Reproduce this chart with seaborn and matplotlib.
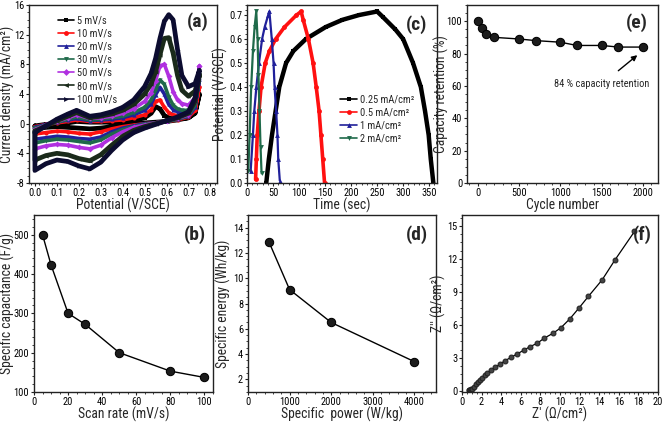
import matplotlib
matplotlib.use("Agg")
import matplotlib.pyplot as plt
import matplotlib.font_manager as fm
import seaborn as sns

# ---- data ----
# (a) cyclic voltammetry, anodic sweep and cathodic sweep
scan_labels = ["5 mV/s", "10 mV/s", "20 mV/s", "30 mV/s", "50 mV/s", "80 mV/s", "100 mV/s"]
e_fwd = [0.0, 0.05, 0.1, 0.15, 0.19, 0.25, 0.3, 0.35, 0.4, 0.45, 0.5, 0.53,
         0.55, 0.57, 0.59, 0.61, 0.63, 0.65, 0.67, 0.7, 0.73, 0.75]
e_rev = [0.75, 0.73, 0.7, 0.65, 0.6, 0.55, 0.5, 0.45, 0.4, 0.35, 0.3, 0.25,
         0.2, 0.15, 0.1, 0.05, 0.0]
i_fwd_5 = [-0.3, -0.1, 0.0, 0.1, 0.3, 0.2, 0.2, 0.2, 0.3, 0.5, 0.8, 1.4, 2.3, 2.0, 1.1, 0.8, 0.7, 0.7, 0.7, 0.8, 1.4, 4.0]
i_fwd_10 = [-0.4, -0.1, 0.1, 0.3, 0.5, 0.3, 0.3, 0.4, 0.5, 0.8, 1.2, 1.9, 3.0, 3.2, 2.2, 1.5, 1.2, 1.1, 1.0, 1.1, 1.8, 5.0]
i_fwd_20 = [-0.5, -0.1, 0.2, 0.5, 0.7, 0.4, 0.5, 0.6, 0.8, 1.2, 1.8, 2.7, 3.9, 4.9, 4.0, 2.6, 1.9, 1.6, 1.5, 1.5, 2.4, 6.0]
i_fwd_30 = [-0.6, -0.2, 0.2, 0.6, 0.9, 0.5, 0.6, 0.8, 1.0, 1.5, 2.2, 3.2, 4.6, 5.9, 5.3, 3.6, 2.5, 2.0, 1.8, 1.8, 2.8, 6.5]
i_fwd_50 = [-0.8, -0.2, 0.3, 0.8, 1.2, 0.7, 0.8, 1.0, 1.4, 2.0, 3.0, 4.2, 5.8, 7.8, 8.0, 6.4, 4.3, 3.2, 2.7, 2.5, 3.5, 7.8]
i_fwd_80 = [-1.0, -0.3, 0.4, 1.0, 1.5, 0.8, 1.0, 1.3, 1.8, 2.6, 4.0, 5.4, 7.0, 9.3, 11.5, 11.6, 9.5, 6.5, 4.5, 3.7, 4.4, 6.6]
i_fwd_100 = [-1.2, -0.3, 0.6, 1.3, 1.8, 1.0, 1.2, 1.6, 2.2, 3.2, 5.0, 6.8, 8.8, 11.5, 13.8, 14.7, 14.0, 10.0, 6.5, 5.0, 5.4, 7.2]
i_rev_5 = [4.0, 1.5, 0.8, 0.5, 0.3, 0.2, 0.1, 0.0, -0.2, -0.4, -0.6, -0.7, -0.6, -0.5, -0.4, -0.5, -0.7]
i_rev_10 = [5.0, 1.8, 0.9, 0.5, 0.3, 0.1, 0.0, -0.2, -0.4, -0.7, -1.1, -1.4, -1.3, -1.1, -1.0, -1.2, -1.4]
i_rev_20 = [6.0, 2.2, 1.0, 0.6, 0.3, 0.1, 0.0, -0.3, -0.6, -1.1, -1.8, -2.1, -2.0, -1.8, -1.7, -1.9, -2.1]
i_rev_30 = [6.5, 2.5, 1.1, 0.6, 0.3, 0.1, -0.1, -0.4, -0.8, -1.4, -2.2, -2.6, -2.4, -2.2, -2.1, -2.3, -2.6]
i_rev_50 = [7.8, 3.0, 1.2, 0.7, 0.4, 0.1, -0.2, -0.5, -1.1, -1.9, -2.9, -3.4, -3.2, -2.9, -2.8, -3.0, -3.4]
i_rev_80 = [6.6, 3.0, 1.4, 0.8, 0.4, 0.0, -0.4, -0.9, -1.7, -2.9, -4.2, -5.0, -4.7, -4.2, -4.0, -4.3, -4.9]
i_rev_100 = [7.2, 3.5, 1.6, 0.9, 0.4, -0.1, -0.6, -1.2, -2.2, -3.6, -5.2, -6.1, -5.7, -5.1, -4.9, -5.4, -6.3]

# (b) capacitance vs scan rate
scan_rate = [5, 10, 20, 30, 50, 80, 100]
capacitance = [500, 423, 300, 272, 200, 153, 137]

# (c) charge-discharge curves
gcd_labels = ["0.25 mA/cm²", "0.5 mA/cm²", "1 mA/cm²", "2 mA/cm²"]
t_025 = [37, 42, 48, 55, 62, 75, 89, 113, 151, 183, 215, 250, 262, 285, 300, 319, 334, 342, 349, 353, 358]
v_025 = [0.0, 0.1, 0.2, 0.3, 0.4, 0.5, 0.55, 0.6, 0.65, 0.68, 0.7, 0.715, 0.69, 0.64, 0.6, 0.5, 0.4, 0.3, 0.2, 0.1, 0.0]
t_05 = [16.5, 18, 19.7, 23, 27, 35, 43, 55, 72, 95, 104, 108, 118, 127, 133, 138.5, 142, 145.5, 149]
v_05 = [0.015, 0.1, 0.2, 0.3, 0.4, 0.5, 0.55, 0.6, 0.65, 0.7, 0.715, 0.68, 0.6, 0.5, 0.4, 0.3, 0.2, 0.1, 0.0]
t_1 = [7, 11.4, 14, 18, 23, 29, 34, 40.7, 43, 47.6, 51, 53, 56, 58.5, 60, 63]
v_1 = [0.05, 0.2, 0.3, 0.4, 0.5, 0.6, 0.65, 0.7, 0.715, 0.6, 0.5, 0.4, 0.3, 0.2, 0.1, 0.01]
t_2 = [2.5, 5, 8, 11.4, 14.6, 17.8, 20.3, 22, 24, 26, 28]
v_2 = [0.05, 0.2, 0.4, 0.55, 0.65, 0.715, 0.6, 0.45, 0.3, 0.15, 0.04]

# (d) Ragone
power = [500, 1000, 2000, 4000]
energy = [12.9, 9.1, 6.5, 3.4]

# (e) cycling stability
cycles = [0, 50, 100, 200, 500, 700, 1000, 1200, 1500, 1700, 2000]
retention = [100, 96, 92, 90, 89, 88, 87, 85, 85, 84, 84]

# (f) Nyquist plot
z_re = [0.7, 0.75, 0.8, 0.9, 1.0, 1.2, 1.4, 1.6, 1.8, 2.0, 2.3, 2.6, 3.0, 3.4, 3.9, 4.4,
        5.0, 5.6, 6.3, 6.9, 7.7, 8.4, 9.3, 10.1, 11.0, 11.9, 12.9, 14.3, 15.6, 17.6]
z_im = [0.05, 0.1, 0.12, 0.15, 0.2, 0.4, 0.6, 0.8, 1.0, 1.2, 1.45, 1.65, 1.9, 2.15, 2.45, 2.75,
        3.05, 3.35, 3.7, 4.0, 4.35, 4.8, 5.25, 5.75, 6.55, 7.5, 8.6, 10.1, 11.9, 14.5]

# ---- style ----
sns.set_style("ticks")
names = {f.name for f in fm.fontManager.ttflist}
fam = "Liberation Sans"
for cand in ["Liberation Sans Narrow", "Arial Narrow", "Roboto Condensed", "Open Sans Condensed"]:
    if cand in names:
        fam = cand
        break
narrow = fam != "Liberation Sans"
plt.rcParams["font.family"] = [fam, "DejaVu Sans"]
plt.rcParams["axes.unicode_minus"] = False
plt.rcParams["axes.linewidth"] = 1.0
plt.rcParams["axes.edgecolor"] = "#222222"
plt.rcParams["xtick.major.size"] = 2.5
plt.rcParams["ytick.major.size"] = 2.5
plt.rcParams["xtick.minor.size"] = 1.5
plt.rcParams["ytick.minor.size"] = 1.5
plt.rcParams["xtick.labelsize"] = 7.5 if narrow else 7
plt.rcParams["ytick.labelsize"] = 7.5 if narrow else 7
plt.rcParams["axes.labelsize"] = 9.8 if narrow else 9.3
plt.rcParams["xtick.major.pad"] = 1
plt.rcParams["ytick.major.pad"] = 1
small = 7.5 if narrow else 7

fig = plt.figure(figsize=(6.63, 4.25), dpi=100)
H = 425.0
W = 663.0


def box(x0, x1, y0, y1):
    return fig.add_axes([x0 / W, 1 - y1 / H, (x1 - x0) / W, (y1 - y0) / H])


ax_a = box(29, 217, 5, 183)
ax_c = box(247, 437, 5, 183)
ax_e = box(467, 658, 5, 183)
ax_b = box(34, 213, 215, 392)
ax_d = box(248, 436, 215, 392)
ax_f = box(462, 658, 215, 392)

for ax in [ax_a, ax_b, ax_c, ax_d, ax_e, ax_f]:
    ax.minorticks_on()
    ax.tick_params(which="both", direction="out", top=False, right=False, colors="#222222")
    ax.tick_params(axis="both", labelcolor="black")

# (a)
cv_colors = ["#000000", "#ff1010", "#20209a", "#1f6a4a", "#b030e0", "#1a2a1a", "#0c0c30"]
cv_markers = ["s", "o", "^", "v", "D", "<", ">"]
i_fwd = [i_fwd_5, i_fwd_10, i_fwd_20, i_fwd_30, i_fwd_50, i_fwd_80, i_fwd_100]
i_rev = [i_rev_5, i_rev_10, i_rev_20, i_rev_30, i_rev_50, i_rev_80, i_rev_100]
for k in range(len(scan_labels)):
    xs = e_fwd + e_rev + e_fwd[:1]
    ys = i_fwd[k] + i_rev[k] + i_fwd[k][:1]
    lw = 3.4 if k in (0, 5, 6) else 2.6
    sns.lineplot(x=xs, y=ys, sort=False, estimator=None, ax=ax_a, color=cv_colors[k],
                 lw=lw, marker=cv_markers[k], markersize=3, markeredgewidth=0,
                 label=scan_labels[k])
ax_a.set_xlim(-0.027, 0.83)
ax_a.set_ylim(-8, 16)
ax_a.set_xticks([0.0, 0.1, 0.2, 0.3, 0.4, 0.5, 0.6, 0.7, 0.8])
ax_a.set_yticks([-8, -4, 0, 4, 8, 12, 16])
ax_a.set_xlabel("Potential (V/SCE)", labelpad=0)
ax_a.set_ylabel("Current density (mA/cm²)", labelpad=-1)
leg = ax_a.legend(loc="upper left", bbox_to_anchor=(0.13, 0.965), frameon=False, fontsize=small,
                  handlelength=1.6, handletextpad=0.3, labelspacing=0.3, borderaxespad=0)
for h in leg.get_lines():
    h.set_linewidth(1.2)
    h.set_markersize(3.5)

# (c)
gcd_t = [t_025, t_05, t_1, t_2]
gcd_v = [v_025, v_05, v_1, v_2]
gcd_colors = ["#000000", "#ff1010", "#20209a", "#1f6a4a"]
gcd_markers = ["s", "o", "^", "v"]
gcd_lw = [3.2, 2.6, 1.6, 1.6]
for k in range(4):
    sns.lineplot(x=gcd_t[k], y=gcd_v[k], sort=False, estimator=None, ax=ax_c,
                 color=gcd_colors[k], lw=gcd_lw[k], marker=gcd_markers[k], markersize=3.5,
                 markeredgewidth=0, label=gcd_labels[k])
ax_c.set_xlim(0, 365)
ax_c.set_ylim(0, 0.742)
ax_c.set_xticks(range(0, 351, 50))
ax_c.set_yticks([0.0, 0.1, 0.2, 0.3, 0.4, 0.5, 0.6, 0.7])
ax_c.set_xlabel("Time (sec)", labelpad=0)
ax_c.set_ylabel("Potential (V/SCE)", labelpad=1)
leg = ax_c.legend(loc="upper left", bbox_to_anchor=(0.47, 0.52), frameon=False, fontsize=small,
                  handlelength=1.6, handletextpad=0.3, labelspacing=0.3, borderaxespad=0)
for h in leg.get_lines():
    h.set_linewidth(1.2)
    h.set_markersize(3.5)

# (e)
sns.lineplot(x=cycles, y=retention, ax=ax_e, color="black", lw=1, marker="o",
             markersize=6, markerfacecolor="#1c1c1c", markeredgecolor="black")
ax_e.set_xlim(-130, 2180)
ax_e.set_ylim(0, 110)
ax_e.set_xticks([0, 500, 1000, 1500, 2000])
ax_e.set_yticks([0, 20, 40, 60, 80, 100])
ax_e.set_xlabel("Cycle number", labelpad=0)
ax_e.set_ylabel("Capacity retention (%)", labelpad=-1.5)
ax_e.annotate("84 % capacity retention", xy=(cycles[-1] - 70, retention[-1] - 5),
              xytext=(1500, 61), ha="center", va="center", fontsize=small,
              arrowprops=dict(arrowstyle="-|>", color="black", lw=1, mutation_scale=8,
                              shrinkA=6, shrinkB=0))

# (b)
sns.lineplot(x=scan_rate, y=capacitance, ax=ax_b, color="black", lw=1, marker="o",
             markersize=6, markerfacecolor="#1c1c1c", markeredgecolor="black")
ax_b.set_xlim(0, 105)
ax_b.set_ylim(100, 550)
ax_b.set_xticks([0, 20, 40, 60, 80, 100])
ax_b.set_yticks([100, 200, 300, 400, 500])
ax_b.set_xlabel("Scan rate (mV/s)", labelpad=-0.5)
ax_b.set_ylabel("Specific capacitance (F/g)", labelpad=-1)

# (d)
sns.lineplot(x=power, y=energy, ax=ax_d, color="black", lw=1, marker="o",
             markersize=6, markerfacecolor="#1c1c1c", markeredgecolor="black")
ax_d.set_xlim(0, 4520)
ax_d.set_ylim(1, 15)
ax_d.set_xticks([0, 1000, 2000, 3000, 4000])
ax_d.set_yticks([2, 4, 6, 8, 10, 12, 14])
ax_d.set_xlabel("Specific  power (W/kg)", labelpad=-0.5)
ax_d.set_ylabel("Specific energy (Wh/kg)", labelpad=1)

# (f)
sns.lineplot(x=z_re, y=z_im, sort=False, estimator=None, ax=ax_f, color="black", lw=0.9,
             marker="o", markersize=3.5, markerfacecolor="#444444", markeredgecolor="#222222")
ax_f.set_xlim(0, 20)
ax_f.set_ylim(-0.1, 16)
ax_f.set_xticks(range(0, 21, 2))
ax_f.set_yticks([0, 3, 6, 9, 12, 15])
ax_f.set_xlabel("Z' (Ω/cm²)", labelpad=-0.5)
ax_f.set_ylabel("Z'' (Ω/cm²)", labelpad=1)

# panel labels
for ax, lab, px, py in [(ax_a, "(a)", 0.9, 0.905), (ax_c, "(c)", 0.89, 0.89),
                        (ax_e, "(e)", 0.89, 0.9), (ax_b, "(b)", 0.9, 0.89),
                        (ax_d, "(d)", 0.9, 0.89), (ax_f, "(f)", 0.92, 0.89)]:
    ax.text(px, py, lab, transform=ax.transAxes, ha="center", va="center",
            fontsize=14, fontweight="bold")

fig.savefig("out.png", dpi=100, facecolor="white")
